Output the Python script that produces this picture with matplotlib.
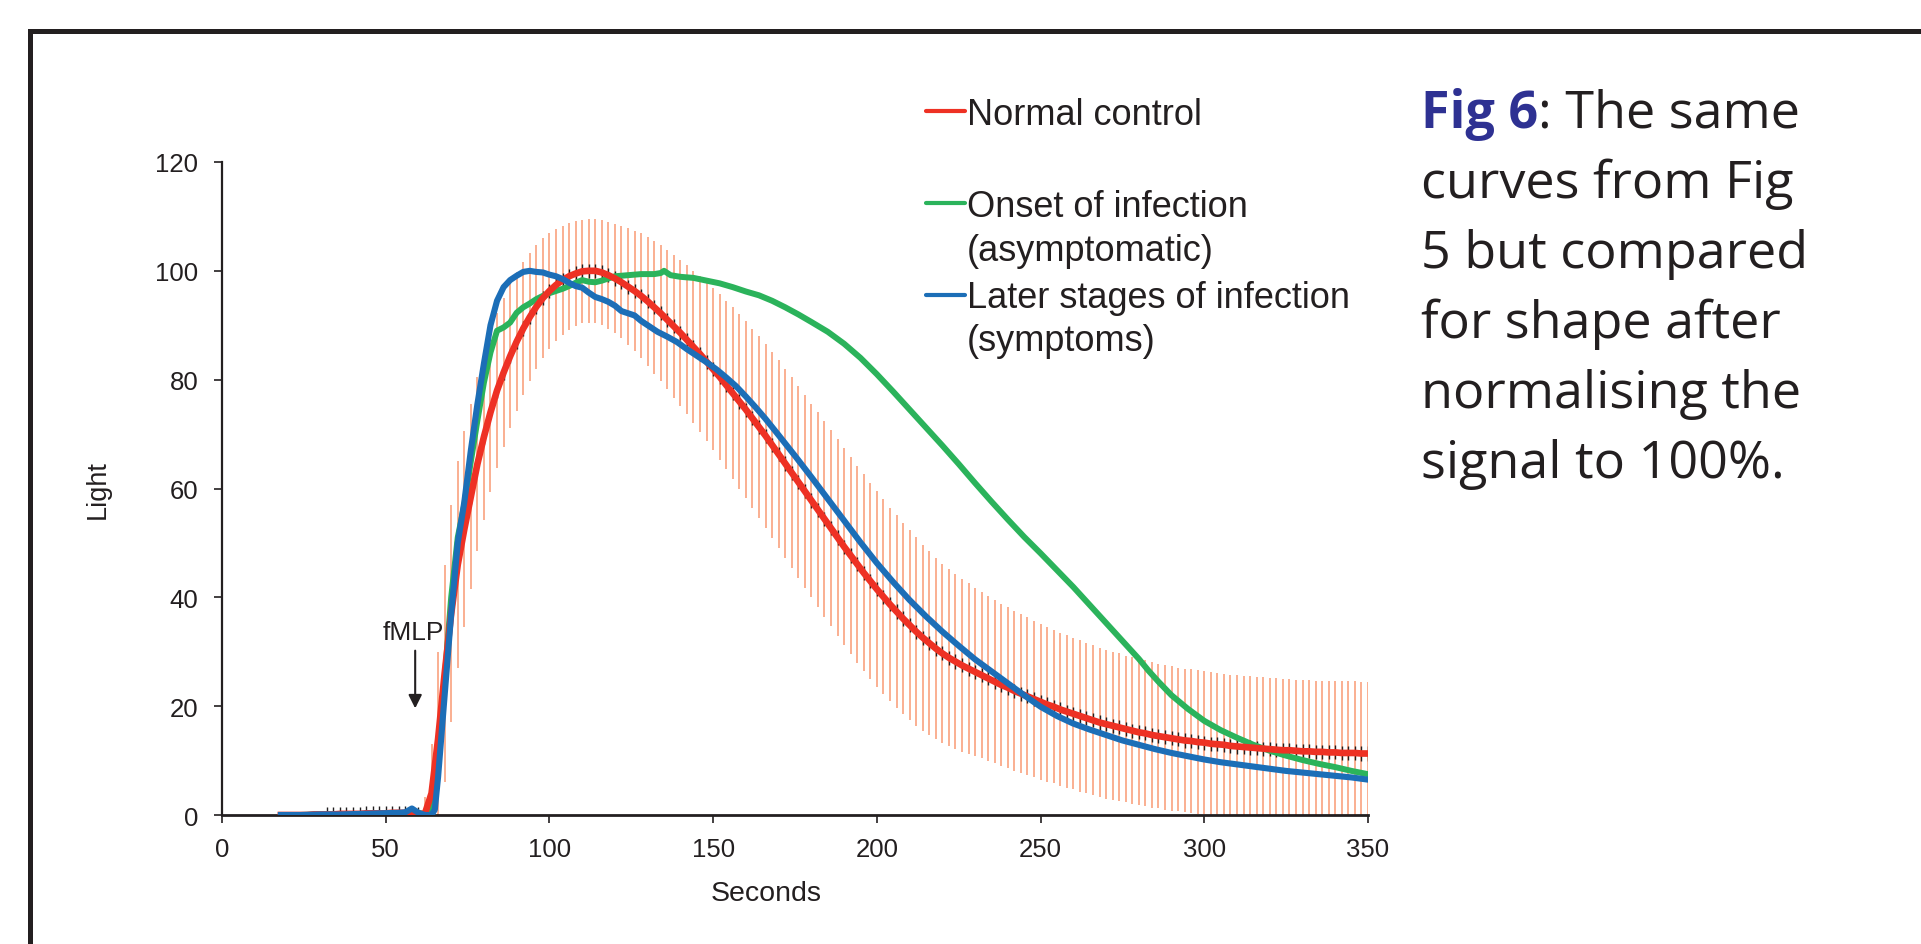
import numpy as np
import matplotlib
matplotlib.use('Agg')
import matplotlib.pyplot as plt
from matplotlib.lines import Line2D

# ---------------------------------------------------------
# Data (Seconds vs normalised Light)
# ---------------------------------------------------------

# Normal control: mean every 2 s from 18 to 350 s
red_t = np.arange(18, 351, 2)
red_v = [
    0.0, 0.0, 0.0, 0.0, 0.0, 0.1, 0.1, 0.1, 0.1, 0.2,
    0.2, 0.2, 0.2, 0.3, 0.3, 0.3, 0.3, 0.4, 0.4, 0.4,
    0.3, 0.1, 0.3, 4.0, 14.0, 26.0, 37.0, 46.0, 52.5, 58.5,
    64.5, 69.5, 74.0, 78.0, 81.3, 84.3, 87.0, 89.4, 91.5, 93.4,
    95.0, 96.3, 97.4, 98.3, 99.0, 99.5, 99.9, 100.0, 100.0, 99.7,
    99.2, 98.6, 97.9, 97.1, 96.3, 95.4, 94.4, 93.3, 92.2, 91.0,
    89.8, 88.6, 87.3, 86.0, 84.7, 83.3, 81.9, 80.5, 79.0, 77.5,
    76.0, 74.5, 72.9, 71.3, 69.7, 68.0, 66.3, 64.6, 62.9, 61.2,
    59.5, 57.8, 56.1, 54.4, 52.7, 51.0, 49.3, 47.7, 46.1, 44.5,
    43.0, 41.5, 40.1, 38.7, 37.4, 36.1, 34.9, 33.7, 32.6, 31.6,
    30.6, 29.7, 28.9, 28.2, 27.5, 26.9, 26.3, 25.7, 25.1, 24.5,
    23.9, 23.4, 22.8, 22.3, 21.8, 21.3, 20.8, 20.3, 19.9, 19.4,
    19.0, 18.6, 18.2, 17.8, 17.4, 17.0, 16.7, 16.4, 16.1, 15.8,
    15.5, 15.2, 15.0, 14.7, 14.5, 14.3, 14.1, 13.9, 13.7, 13.6,
    13.4, 13.3, 13.1, 13.0, 12.9, 12.7, 12.6, 12.5, 12.4, 12.3,
    12.2, 12.1, 12.0, 11.9, 11.9, 11.8, 11.7, 11.7, 11.6, 11.6,
    11.5, 11.5, 11.4, 11.4, 11.4, 11.3, 11.3,
]
# spread of the normal controls (orange bars), same time grid
red_err = [
    0, 0, 0, 0, 0, 0, 0, 0, 0, 0,
    0, 0, 0, 0, 0, 0, 0, 0, 0, 0,
    0, 1.0, 3.0, 9.0, 16.0, 20.0, 20.0, 19.0, 18.0, 17.0,
    16.0, 15.3, 14.7, 14.2, 13.7, 13.2, 12.7, 12.2, 11.8, 11.4,
    11.0, 10.6, 10.3, 10.0, 9.8, 9.6, 9.5, 9.5, 9.5, 9.6,
    9.8, 10.0, 10.3, 10.7, 11.1, 11.5, 11.9, 12.2, 12.5, 12.8,
    13.1, 13.4, 13.7, 14.0, 14.3, 14.6, 14.9, 15.2, 15.5, 15.8,
    16.0, 16.3, 16.5, 16.7, 16.9, 17.1, 17.3, 17.4, 17.5, 17.6,
    17.7, 17.8, 17.9, 18.0, 18.0, 18.1, 18.1, 18.1, 18.1, 18.1,
    18.0, 18.0, 17.9, 17.8, 17.7, 17.6, 17.5, 17.3, 17.1, 16.9,
    16.7, 16.5, 16.3, 16.1, 15.9, 15.7, 15.5, 15.3, 15.1, 15.0,
    14.9, 14.8, 14.7, 14.6, 14.5, 14.4, 14.3, 14.2, 14.1, 14.0,
    14.0, 13.9, 13.9, 13.8, 13.8, 13.7, 13.7, 13.6, 13.6, 13.5,
    13.5, 13.4, 13.4, 13.4, 13.3, 13.3, 13.3, 13.2, 13.2, 13.2,
    13.2, 13.1, 13.1, 13.1, 13.1, 13.1, 13.1, 13.1, 13.1, 13.1,
    13.1, 13.1, 13.1, 13.1, 13.1, 13.1, 13.1, 13.1, 13.1, 13.1,
    13.1, 13.1, 13.2, 13.2, 13.2, 13.2, 13.2,
]
red_sem = 1.3  # small black bars riding on the red curve

# Onset of infection (asymptomatic)
green_t = [18, 24, 30, 36, 42, 48, 54, 58, 60, 62,
           64, 66, 68, 70, 72, 74, 76, 78, 80, 82,
           84, 86, 88, 90, 92, 94, 96, 98, 100, 102,
           104, 106, 108, 110, 112, 114, 116, 118, 120, 124,
           128, 132, 134, 135, 137, 140, 144, 148, 152, 156,
           160, 164, 168, 172, 176, 180, 185, 190, 195, 200,
           205, 210, 215, 220, 225, 230, 235, 240, 245, 250,
           255, 260, 265, 270, 275, 280, 283, 286, 290, 295,
           300, 305, 310, 315, 320, 325, 330, 335, 340, 345,
           350]
green_v = [0.0, 0.0, 0.1, 0.1, 0.1, 0.2, 0.3, 0.4, 0.4, 0.1,
           0.5, 10.0, 25.0, 40.0, 51.0, 57.0, 65.0, 72.5, 79.5, 85.0,
           89.0, 89.6, 90.5, 92.3, 93.3, 94.0, 94.8, 95.4, 95.9, 96.3,
           96.7, 97.2, 97.8, 98.3, 98.0, 97.9, 98.2, 98.6, 99.0, 99.2,
           99.4, 99.4, 99.6, 100.0, 99.2, 98.9, 98.7, 98.2, 97.7, 97.0,
           96.2, 95.5, 94.5, 93.3, 92.0, 90.6, 88.8, 86.6, 84.0, 81.0,
           77.8, 74.5, 71.2, 67.9, 64.5, 61.0, 57.6, 54.3, 51.1, 48.1,
           45.0, 41.9, 38.6, 35.3, 32.0, 28.7, 26.5, 24.5, 22.0, 19.5,
           17.3, 15.6, 14.2, 12.9, 11.8, 10.9, 10.1, 9.4, 8.8, 8.1,
           7.5]

# Later stages of infection (symptoms)
blue_t = [18, 24, 30, 36, 42, 48, 54, 56, 58, 60,
          62, 64, 65, 66, 68, 70, 72, 74, 76, 78,
          80, 82, 84, 86, 88, 90, 92, 94, 96, 98,
          100, 102, 104, 106, 108, 110, 112, 114, 116, 118,
          120, 122, 124, 126, 128, 130, 133, 136, 139, 142,
          145, 148, 151, 154, 157, 160, 163, 166, 170, 175,
          180, 185, 190, 195, 200, 205, 210, 215, 220, 225,
          230, 235, 240, 245, 250, 255, 260, 265, 270, 275,
          280, 285, 290, 295, 300, 305, 310, 315, 320, 325,
          330, 335, 340, 345, 350]
blue_v = [0.0, 0.0, 0.1, 0.1, 0.2, 0.3, 0.4, 0.5, 1.2, 0.4,
          0.0, 0.0, 1.0, 7.0, 22.0, 37.0, 50.0, 57.5, 67.0, 75.5,
          83.0, 90.0, 94.5, 97.0, 98.3, 99.1, 99.8, 100.0, 99.8, 99.7,
          99.3, 99.0, 98.5, 97.8, 97.2, 96.9, 96.0, 95.2, 94.8, 94.3,
          93.6, 92.6, 92.2, 91.8, 90.8, 90.0, 88.8, 87.9, 86.9, 85.6,
          84.4, 83.2, 81.9, 80.4, 78.8, 76.9, 74.9, 72.8, 69.8, 66.0,
          62.1, 58.1, 54.1, 50.1, 46.3, 42.8, 39.5, 36.5, 33.7, 31.1,
          28.6, 26.4, 24.2, 22.0, 19.9, 18.2, 16.8, 15.7, 14.7, 13.7,
          12.9, 12.1, 11.4, 10.8, 10.2, 9.7, 9.3, 8.9, 8.5, 8.1,
          7.8, 7.5, 7.2, 6.9, 6.5]

x_ticks = [0, 50, 100, 150, 200, 250, 300, 350]
y_ticks = [0, 20, 40, 60, 80, 100, 120]
legend_labels = ['Normal control',
                 ['Onset of infection', '(asymptomatic)'],
                 ['Later stages of infection', '(symptoms)']]
caption_lines = [': The same', 'curves from Fig', '5 but compared',
                 'for shape after', 'normalising the', 'signal to 100%.']

# ---------------------------------------------------------
# Figure
# ---------------------------------------------------------
W, H = 1921, 945
plt.rcParams['font.family'] = ['Liberation Sans', 'DejaVu Sans']
ink = '#231F20'
c_red, c_green, c_blue, c_orange = '#EE3124', '#2BB35B', '#1C6EB7', '#F9A27F'

fig = plt.figure(figsize=(W / 100, H / 100), dpi=100)


def fx(px):
    return px / W


def fy(py):
    return 1 - py / H


# thick frame (only top and left are inside the picture)
fig.add_artist(Line2D([fx(30), fx(30)], [0, fy(31.5)], color=ink, lw=3.6,
                      solid_capstyle='projecting'))
fig.add_artist(Line2D([fx(30), 1], [fy(31.5), fy(31.5)], color=ink, lw=3.6,
                      solid_capstyle='projecting'))

ax = fig.add_axes([fx(222), fy(816), fx(1368) - fx(222), fy(163) - fy(816)])

red_t = np.asarray(red_t, dtype=float)
red_v = np.asarray(red_v)
red_err = np.asarray(red_err)
has_err = red_err > 0
ax.vlines(red_t[has_err], red_v[has_err] - red_err[has_err],
          red_v[has_err] + red_err[has_err], color=c_orange, lw=1.2, zorder=1)
has_sem = red_t >= 32
ax.vlines(red_t[has_sem], red_v[has_sem] - red_sem, red_v[has_sem] + red_sem,
          color=ink, lw=1.0, zorder=2)

ax.plot(green_t, green_v, color=c_green, lw=4.3, zorder=3, solid_joinstyle='round')
ax.plot(red_t, red_v, color=c_red, lw=4.8, zorder=4, solid_joinstyle='round')
ax.plot(blue_t, blue_v, color=c_blue, lw=4.4, zorder=5, solid_joinstyle='round')

ax.set_xlim(0, 350)
ax.set_ylim(0, 120)
ax.set_xticks(x_ticks)
ax.set_yticks(y_ticks)
for side in ['top', 'right']:
    ax.spines[side].set_visible(False)
ax.spines['left'].set_linewidth(1.6)
ax.spines['bottom'].set_linewidth(2.0)
ax.spines['left'].set_color(ink)
ax.spines['bottom'].set_color(ink)
ax.tick_params(axis='both', direction='out', length=6, width=1.2, color=ink,
               labelsize=18.5, labelcolor=ink)
ax.tick_params(axis='x', pad=10)
ax.tick_params(axis='y', pad=11)

ax.set_xlabel('Seconds', fontsize=20.5, color=ink, va='top')
ax.xaxis.set_label_coords((766 - 222) / 1146, (816 - 881) / 653)
ax.set_ylabel('Light', fontsize=19.5, color=ink, va='center')
ax.yaxis.set_label_coords((98 - 222) / 1146, 0.5)

# fMLP marker
ax.text(58.5, 33.6, 'fMLP', ha='center', va='center', fontsize=19, color=ink)
ax.annotate('', xy=(59, 19.6), xytext=(59, 30.2),
            arrowprops=dict(arrowstyle='-|>', color=ink, lw=1.5,
                            mutation_scale=20, shrinkA=0, shrinkB=0))

# legend, laid out by hand like the original
legend_colors = [c_red, c_green, c_blue]
key_y = [111.7, 204, 296]
base_y = [[125], [216.7, 261], [308.5, 351]]
for col, ky, lab, bys in zip(legend_colors, key_y, legend_labels, base_y):
    fig.add_artist(Line2D([fx(926), fx(965)], [fy(ky), fy(ky)], color=col,
                          lw=3.0, solid_capstyle='round'))
    lines = lab if isinstance(lab, list) else [lab]
    for txt, by in zip(lines, bys):
        fig.text(fx(967), fy(by), txt, fontsize=26, color=ink, va='baseline')

# caption on the right
cap_font = ['Open Sans', 'DejaVu Sans']
cap_base = [128, 198, 268, 338, 408, 478]
renderer = fig.canvas.get_renderer()
t_fig = fig.text(fx(1421), fy(cap_base[0]), 'Fig 6', family=cap_font,
                 fontsize=37.5, weight='bold', color='#2E3192', va='baseline')
x_after = t_fig.get_window_extent(renderer).x1 / W
fig.text(x_after, fy(cap_base[0]), caption_lines[0], family=cap_font,
         fontsize=37.5, color=ink, va='baseline')
for txt, by in zip(caption_lines[1:], cap_base[1:]):
    fig.text(fx(1421), fy(by), txt, family=cap_font, fontsize=37.5,
             color=ink, va='baseline')

fig.savefig('out.png', dpi=100)
